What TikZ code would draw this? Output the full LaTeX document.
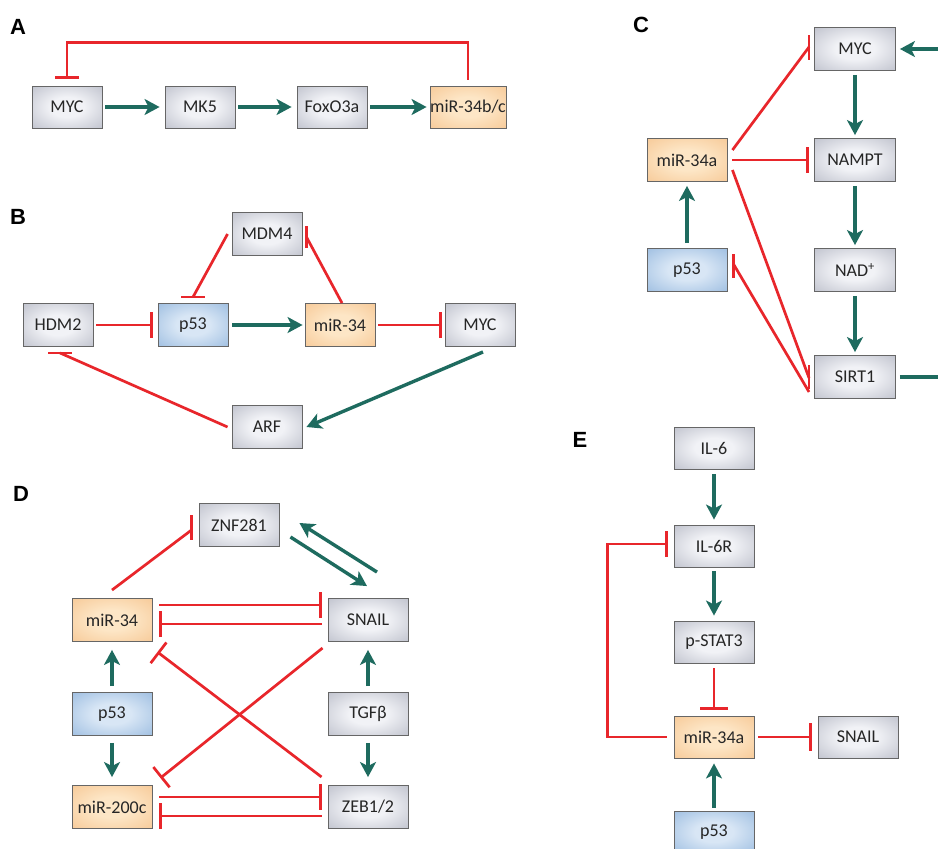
\documentclass[tikz,border=0pt]{standalone}
\usepackage{fontspec}
\setmainfont{Carlito}
\newfontfamily\labelfont{Liberation Sans}
\usetikzlibrary{arrows.meta}
\definecolor{tealc}{HTML}{1E6B5F}
\definecolor{redc}{HTML}{E8262B}
\definecolor{bordc}{HTML}{666666}
\definecolor{txtc}{HTML}{262626}
\definecolor{gin}{HTML}{F1F2F6}
\definecolor{gout}{HTML}{9A9EAE}
\definecolor{bin}{HTML}{D8E6F5}
\definecolor{bout}{HTML}{72A0D2}
\definecolor{oin}{HTML}{FDE6C6}
\definecolor{oout}{HTML}{F2B475}
\pgfdeclareradialshading{gshade}{\pgfpointorigin}{color(0bp)=(gin); color(12bp)=(gin); color(55bp)=(gout); color(75bp)=(gout)}
\pgfdeclareradialshading{bshade}{\pgfpointorigin}{color(0bp)=(bin); color(12bp)=(bin); color(55bp)=(bout); color(75bp)=(bout)}
\pgfdeclareradialshading{oshade}{\pgfpointorigin}{color(0bp)=(oin); color(12bp)=(oin); color(55bp)=(oout); color(75bp)=(oout)}
\begin{document}
\begin{tikzpicture}[x=1pt,y=-1pt,
  box/.style={rectangle, draw=bordc, line width=0.9pt, minimum height=43pt, minimum width=80pt, inner sep=0pt, text=txtc, font=\fontsize{18}{21}\selectfont},
  gbox/.style={box, shading=gshade},
  bbox/.style={box, shading=bshade},
  obox/.style={box, shading=oshade},
  act/.style={draw=tealc, line width=3.4pt, -{Stealth[length=15pt,width=16pt,inset=4pt]}},
  actline/.style={draw=tealc, line width=3.4pt},
  rl/.style={draw=redc, line width=2.7pt},
  inh/.style={rl, -{Bar[width=26pt]}},
  plabel/.style={font=\labelfont\bfseries\fontsize{22}{26}\selectfont, inner sep=0pt, text=black}]
\useasboundingbox (0,0) rectangle (938,849);
\fill[white] (0,0) rectangle (938,849);

% ---------- Panel A ----------
\node[plabel] (labA) at (18,27) {A};
\node[gbox, minimum width=70pt, minimum height=42pt] (aMYC) at (67,107) {MYC};
\node[gbox, minimum width=70pt, minimum height=42pt] (aMK5) at (200,107) {MK5};
\node[gbox, minimum width=70pt, minimum height=42pt] (aFox) at (332,107) {FoxO3a};
\node[obox, minimum width=76pt, minimum height=42pt] (aMiR) at (468,107) {miR-34b/c};
\draw[act] ([xshift=3pt]aMYC.east) -- ([xshift=-5pt]aMK5.west);
\draw[act] ([xshift=3pt]aMK5.east) -- ([xshift=-5pt]aFox.west);
\draw[act] ([xshift=3pt]aFox.east) -- ([xshift=-3pt]aMiR.west);
\draw[inh, -{Bar[width=24pt]}] ([yshift=6pt]aMiR.north) -- ++(0,-37) -| ([yshift=7pt]aMYC.north);

% ---------- Panel B ----------
\node[plabel] (labB) at (18,217) {B};
\node[gbox, minimum width=70pt] (bMDM4) at (267,234) {MDM4};
\node[gbox, minimum width=70pt] (bHDM2) at (58,325) {HDM2};
\node[bbox, minimum width=70pt] (bp53) at (193,325) {p53};
\node[obox, minimum width=70pt] (bmiR) at (340,325) {miR-34};
\node[gbox, minimum width=70pt] (bMYC) at (480,325) {MYC};
\node[gbox, minimum width=70pt] (bARF) at (267,427) {ARF};
\draw[inh] ([xshift=3pt]bHDM2.east) -- ([xshift=-5pt]bp53.west);
\draw[act] ([xshift=4pt]bp53.east) -- ([xshift=-2pt]bmiR.west);
\draw[inh] ([xshift=3pt]bmiR.east) -- ([xshift=-3pt]bMYC.west);
% MDM4 -| p53
\draw[rl] ([xshift=-4pt]bMDM4.west) -- ([yshift=6pt]bp53.north);
\draw[rl] ([xshift=-12pt,yshift=6pt]bp53.north) -- ([xshift=12pt,yshift=6pt]bp53.north);
% miR-34 -| MDM4
\draw[rl] ([xshift=2pt]bmiR.north) -- ([xshift=4pt,yshift=-3pt]bMDM4.east);
\draw[rl] ([xshift=4pt,yshift=8pt]bMDM4.east) -- ([xshift=4pt,yshift=-14pt]bMDM4.east);
% MYC -> ARF
\draw[act] ([xshift=3pt,yshift=-5pt]bMYC.south) -- ([xshift=4pt]bARF.east);
% ARF -| HDM2
\draw[rl] ([xshift=-4pt]bARF.west) -- ([xshift=2pt,yshift=-6pt]bHDM2.south);
\draw[rl] ([xshift=-10pt,yshift=-6pt]bHDM2.south) -- ([xshift=14pt,yshift=-6pt]bHDM2.south);

% ---------- Panel C ----------
\node[plabel] (labC) at (641,25) {C};
\node[gbox, minimum width=81pt] (cMYC) at (855,49) {MYC};
\node[gbox, minimum width=81pt] (cNAMPT) at (855,160) {NAMPT};
\node[gbox, minimum width=81pt] (cNAD) at (855,270) {NAD\textsuperscript{+}};
\node[gbox, minimum width=81pt] (cSIRT1) at (855,377) {SIRT1};
\node[obox] (cmiR) at (687,160) {miR-34a};
\node[bbox] (cp53) at (687,270) {p53};
\coordinate (cR1) at (938,377);
\coordinate (cR2) at (938,49);
\draw[act] ([yshift=-4pt]cMYC.south) -- ([yshift=3pt]cNAMPT.north);
\draw[act] ([yshift=-4pt]cNAMPT.south) -- ([yshift=3pt]cNAD.north);
\draw[act] ([yshift=-4pt]cNAD.south) -- ([yshift=3pt]cSIRT1.north);
\draw[act] ([yshift=5pt]cp53.north) -- ([yshift=-4pt]cmiR.south);
\draw[actline] ([xshift=4pt]cSIRT1.east) -- (cR1);
\draw[act] (cR2) -- ([xshift=4pt]cMYC.east);
% miR-34a -| MYC
\draw[rl] ([xshift=5pt,yshift=10pt]cmiR.east) -- ([xshift=-5pt,yshift=2pt]cMYC.west);
\draw[rl] ([xshift=-5pt,yshift=14pt]cMYC.west) -- ([xshift=-5pt,yshift=-11pt]cMYC.west);
% miR-34a -| NAMPT
\draw[inh] ([xshift=5pt]cmiR.east) -- ([xshift=-5pt]cNAMPT.west);
% miR-34a -| SIRT1
\draw[rl] ([xshift=5pt,yshift=-10pt]cmiR.east) -- ([xshift=-5pt,yshift=-1pt]cSIRT1.west);
\draw[rl] ([xshift=-5pt,yshift=12pt]cSIRT1.west) -- ([xshift=-5pt,yshift=-12pt]cSIRT1.west);
% SIRT1 -| p53
\draw[rl] ([xshift=-5pt,yshift=-15pt]cSIRT1.west) -- ([xshift=6pt,yshift=6pt]cp53.east);
\draw[rl] ([xshift=6pt,yshift=16pt]cp53.east) -- ([xshift=6pt,yshift=-8pt]cp53.east);

% ---------- Panel D ----------
\node[plabel] (labD) at (21,494) {D};
\node[gbox] (dZNF) at (239,525) {ZNF281};
\node[obox] (dmiR34) at (112,620) {miR-34};
\node[gbox] (dSNAIL) at (368,620) {SNAIL};
\node[bbox] (dp53) at (112,714) {p53};
\node[gbox] (dTGF) at (368,714) {TGFβ};
\node[obox] (dmiR200) at (112,807) {miR-200c};
\node[gbox] (dZEB) at (368,807) {ZEB1/2};
\draw[act] ([yshift=6pt]dp53.north) -- ([yshift=-8pt]dmiR34.south);
\draw[act] ([yshift=-7pt]dp53.south) -- ([yshift=8pt]dmiR200.north);
\draw[act] ([yshift=6pt]dTGF.north) -- ([yshift=-8pt]dSNAIL.south);
\draw[act] ([yshift=-7pt]dTGF.south) -- ([yshift=8pt]dZEB.north);
% miR-34 -| ZNF281
\draw[rl] ([yshift=8pt]dmiR34.north) -- ([xshift=-7pt,yshift=-5pt]dZNF.west);
\draw[rl] ([xshift=-7pt,yshift=10pt]dZNF.west) -- ([xshift=-7pt,yshift=-15pt]dZNF.west);
% ZNF281 <-> SNAIL
\draw[act] ([xshift=11pt,yshift=-12pt]dZNF.east) -- ([xshift=-1pt,yshift=12pt]dSNAIL.north);
\draw[act] ([xshift=9pt,yshift=26pt]dSNAIL.north) -- ([xshift=20pt,yshift=2pt]dZNF.east);
% miR-34 <-> SNAIL
\draw[inh] ([xshift=7pt,yshift=15pt]dmiR34.east) -- ([xshift=-6pt,yshift=15pt]dSNAIL.west);
\draw[inh] ([xshift=-6pt,yshift=-4pt]dSNAIL.west) -- ([xshift=7pt,yshift=-4pt]dmiR34.east);
% miR-200c <-> ZEB1/2
\draw[inh] ([xshift=7pt,yshift=10pt]dmiR200.east) -- ([xshift=-6pt,yshift=10pt]dZEB.west);
\draw[inh] ([xshift=-6pt,yshift=-9pt]dZEB.west) -- ([xshift=7pt,yshift=-9pt]dmiR200.east);
% crossing
\draw[inh] ([xshift=-6pt,yshift=30pt]dZEB.west) -- ([xshift=5pt,yshift=-32pt]dmiR34.east);
\draw[inh] ([xshift=-5pt,yshift=-28pt]dSNAIL.west) -- ([xshift=8pt,yshift=29pt]dmiR200.east);

% ---------- Panel E ----------
\node[plabel] (labE) at (580,440) {E};
\node[gbox, minimum height=42pt] (eIL6) at (714,448) {IL-6};
\node[gbox, minimum height=42pt] (eIL6R) at (714,546) {IL-6R};
\node[gbox, minimum height=42pt] (eSTAT) at (714,642) {p-STAT3};
\node[obox, minimum height=42pt] (emiR) at (714,737) {miR-34a};
\node[bbox, minimum height=42pt] (ep53) at (714,832) {p53};
\node[gbox, minimum height=42pt] (eSNAIL) at (858,737) {SNAIL};
\draw[act] ([yshift=-5pt]eIL6.south) -- ([yshift=5pt]eIL6R.north);
\draw[act] ([yshift=-4pt]eIL6R.south) -- ([yshift=5pt]eSTAT.north);
\draw[inh, -{Bar[width=28pt]}] ([yshift=-5pt]eSTAT.south) -- ([yshift=6pt]emiR.north);
\draw[act] ([yshift=3pt]ep53.north) -- ([yshift=-5pt]emiR.south);
\draw[inh, -{Bar[width=28pt]}] ([xshift=4pt]emiR.east) -- ([xshift=-6pt]eSNAIL.west);
\draw[inh] ([xshift=-7pt]emiR.west) -- ++(-59,0) |- ([xshift=-6pt,yshift=2pt]eIL6R.west);
\end{tikzpicture}
\end{document}
